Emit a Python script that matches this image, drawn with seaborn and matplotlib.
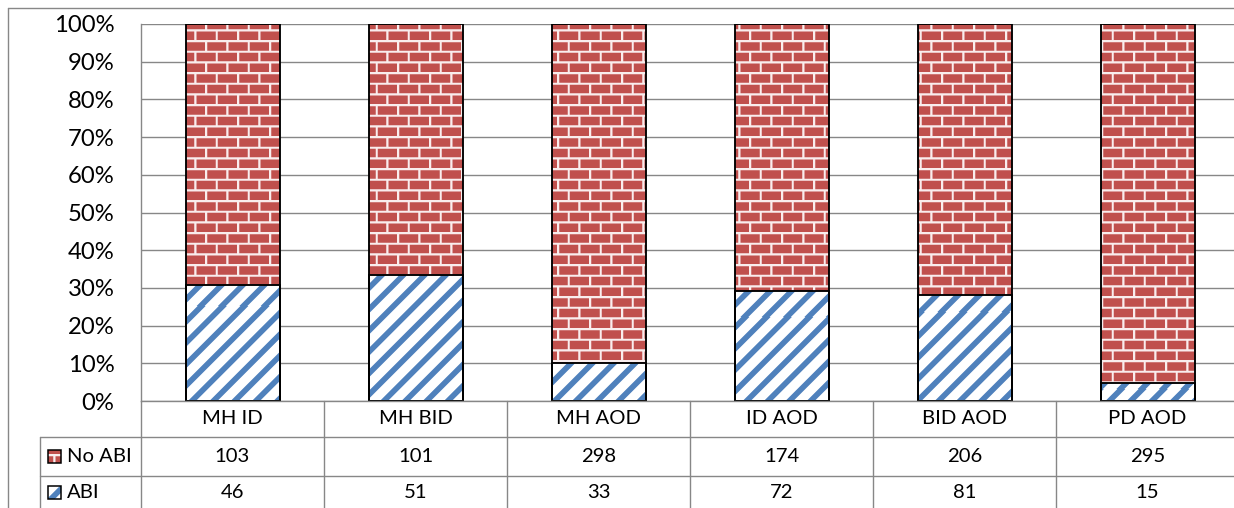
import numpy as np
import pandas as pd
import matplotlib
matplotlib.use("Agg")
import matplotlib.pyplot as plt
import matplotlib.transforms as mtransforms
from matplotlib.lines import Line2D
from matplotlib.patches import Rectangle
import seaborn as sns

# ---- data -----------------------------------------------------------------
groups = ["MH ID", "MH BID", "MH AOD", "ID AOD", "BID AOD", "PD AOD"]
no_abi = [103, 101, 298, 174, 206, 295]
abi = [46, 51, 33, 72, 81, 15]
series_labels = ["No ABI", "ABI"]
y_ticks = [0, 10, 20, 30, 40, 50, 60, 70, 80, 90, 100]

# ---- style ----------------------------------------------------------------
W, H, DPI = 1234, 508, 100
BRICK = np.array([0.753, 0.314, 0.302])      # #C0504D
MORTAR = np.array([0.98, 0.93, 0.93])
BLUE = np.array([0.310, 0.506, 0.741])       # #4F81BD
GRID = "#878787"
SCALE = 8 / 3                                 # pattern cell -> pixels

sns.set_theme(style="white")
plt.rcParams["font.family"] = ["Lato", "DejaVu Sans"]

df = pd.DataFrame({"group": groups, "No ABI": no_abi, "ABI": abi})
df["total"] = df["No ABI"] + df["ABI"]
df["all_pct"] = (df["No ABI"] + df["ABI"]) / df["total"] * 100
df["abi_pct"] = df["ABI"] / df["total"] * 100


def _coverage(h, w, mask_fn, ox=0.0, oy=0.0, ss=4):
    """Anti-aliased coverage of a pattern mask on an h x w pixel grid."""
    yy, xx = np.mgrid[0:h * ss, 0:w * ss].astype(float)
    u = (xx + 0.5) / ss / SCALE + ox
    v = (yy + 0.5) / ss / SCALE + oy
    m = mask_fn(u, v).astype(float)
    return m.reshape(h, ss, w, ss).mean(axis=(1, 3))


def brick_mask(u, v):
    row = np.floor(v / 4)
    horiz = (v % 4) < 0.8
    vert = ((u + 4 * (row % 2)) % 8) < 0.8
    return horiz | vert


def stripe_mask(u, v):
    return ((u + v) % 8) < 3


def brick_texture(h, w, ox=0.0, oy=0.0):
    f = _coverage(h, w, brick_mask, ox, oy)[..., None]
    return f * MORTAR + (1 - f) * BRICK


def stripe_texture(h, w, ox=0.0, oy=0.0):
    f = _coverage(h, w, stripe_mask, ox, oy)[..., None]
    return f * BLUE + (1 - f) * np.ones(3)


# ---- figure & axes ----------------------------------------------------------
fig = plt.figure(figsize=(W / DPI, H / DPI), dpi=DPI)
fig.patch.set_facecolor("white")

AX_L, AX_T, AX_W, AX_H = 141, 24, 1098, 377
ax = fig.add_axes([AX_L / W, 1 - (AX_T + AX_H) / H, AX_W / W, AX_H / H])

bar_w = 94 / 183
sns.barplot(data=df, x="group", y="all_pct", ax=ax, color=BRICK, width=bar_w,
            saturation=1, errorbar=None, edgecolor="black", linewidth=1.35)
n_full = len(ax.patches)
sns.barplot(data=df, x="group", y="abi_pct", ax=ax, color="white", width=bar_w,
            saturation=1, errorbar=None, edgecolor="black", linewidth=1.35)
full_bars = ax.patches[:n_full]
abi_bars = ax.patches[n_full:]

ax.set_ylim(0, 100)
ax.set_xlim(-0.5, len(groups) - 0.5)
x0, x1 = ax.get_xlim()

# textured fills, clipped to each bar
brick_img = brick_texture(AX_H, AX_W, ox=0.0, oy=2.0)
stripe_img = stripe_texture(AX_H, AX_W, ox=1.0, oy=0.0)
for bar in full_bars:
    im = ax.imshow(brick_img, extent=(x0, x1, 0, 100), aspect="auto",
                   interpolation="nearest", origin="upper", zorder=2.1)
    im.set_clip_path(bar)
    bar.set_facecolor("none")
    bar.set_zorder(2.3)
for bar in abi_bars:
    im = ax.imshow(stripe_img, extent=(x0, x1, 0, 100), aspect="auto",
                   interpolation="nearest", origin="upper", zorder=2.2)
    im.set_clip_path(bar)
    bar.set_facecolor("none")
    bar.set_zorder(2.4)
ax.set_xlim(x0, x1)
ax.set_ylim(0, 100)

# axes cosmetics
ax.set_yticks(y_ticks)
ax.set_yticklabels([f"{t}%" for t in y_ticks], fontsize=17.2)
ax.tick_params(axis="y", length=0, pad=19, colors="black")
ax.set_xticks([])
ax.set_xlabel("")
ax.set_ylabel("")
ax.yaxis.grid(True, color=GRID, linewidth=1.0)
ax.set_axisbelow(True)
for side in ["top", "right"]:
    ax.spines[side].set_visible(False)
for side in ["left", "bottom"]:
    ax.spines[side].set_color(GRID)
    ax.spines[side].set_linewidth(1.0)


# ---- data table below the plot ---------------------------------------------
def fy(y):
    return 1 - y / H


def fx(x):
    return x / W


blend = mtransforms.blended_transform_factory(ax.transData, fig.transFigure)

ROW_HDR, ROW_NO, ROW_ABI = 418.5, 456, 493
TABLE_TOP, LINE1, LINE2 = 401, 436.5, 475.5
TABLE_LEFT = 40.5
FS = 14.6

# column separators
for i in range(len(groups) + 1):
    xb = i - 0.5
    fig.add_artist(Line2D([xb, xb], [fy(TABLE_TOP), 0], transform=blend,
                          color=GRID, lw=1.0))
# row separators
for yl in (LINE1, LINE2):
    fig.add_artist(Line2D([fx(TABLE_LEFT), 1], [fy(yl), fy(yl)],
                          transform=fig.transFigure, color=GRID, lw=1.0))
fig.add_artist(Line2D([fx(TABLE_LEFT), fx(TABLE_LEFT)], [fy(LINE1), 0],
                      transform=fig.transFigure, color=GRID, lw=1.0))

# outer chart frame
fig.add_artist(Line2D([fx(8), 1], [fy(8), fy(8)], transform=fig.transFigure,
                      color=GRID, lw=1.0))
fig.add_artist(Line2D([fx(8), fx(8)], [fy(8), 0], transform=fig.transFigure,
                      color=GRID, lw=1.0))

for i, g in enumerate(groups):
    fig.text(i, fy(ROW_HDR), g, transform=blend, ha="center", va="center",
             fontsize=FS, color="black")
    fig.text(i, fy(ROW_NO), str(no_abi[i]), transform=blend, ha="center",
             va="center", fontsize=FS, color="black")
    fig.text(i, fy(ROW_ABI), str(abi[i]), transform=blend, ha="center",
             va="center", fontsize=FS, color="black")

# legend keys inside the table
KEY = 13
key_specs = [(series_labels[0], ROW_NO, brick_texture(KEY, KEY, ox=2.0, oy=2.5)),
             (series_labels[1], ROW_ABI, stripe_texture(KEY, KEY, ox=3.5, oy=0.0))]
for label, yc, tex in key_specs:
    top = int(round(yc - KEY / 2))
    left = 48
    fig.figimage(tex, xo=left, yo=H - top - KEY, origin="upper", zorder=3)
    fig.add_artist(Rectangle((fx(left), fy(top + KEY)), KEY / W, KEY / H,
                             transform=fig.transFigure, facecolor="none",
                             edgecolor="black", lw=1.1, zorder=4))
    fig.text(fx(67), fy(yc), label, ha="left", va="center", fontsize=FS,
             color="black")

fig.savefig("out.png", dpi=DPI, facecolor="white")
